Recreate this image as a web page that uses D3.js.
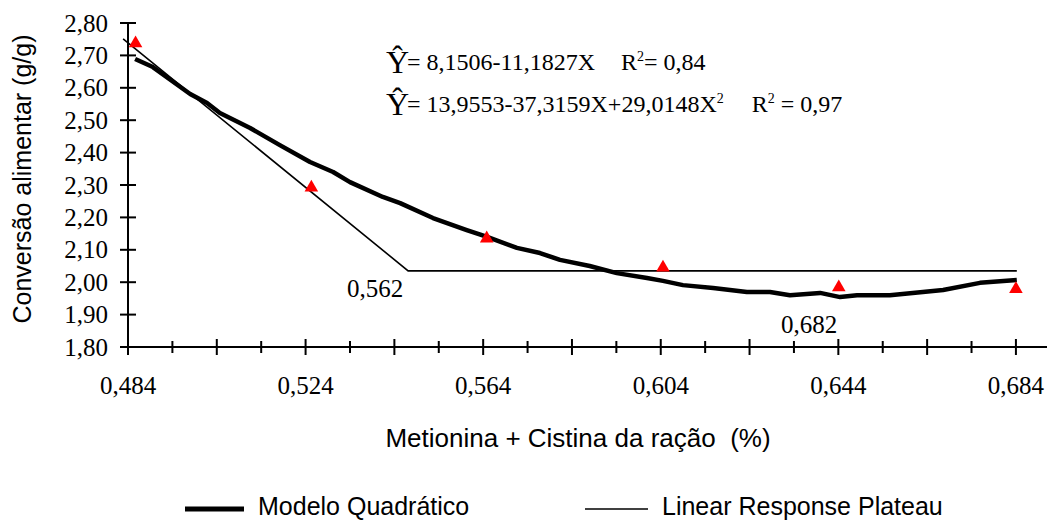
<!DOCTYPE html>
<html lang="pt">
<head>
  <meta charset="UTF-8" />
  <title>Conversão alimentar</title>
  <script src="https://d3js.org/d3.v7.min.js"></script>
  <style>
    body { margin: 0; background: #fff; }
    .serif { font-family: "Liberation Serif", "Times New Roman", serif; fill: #000; }
    .sans  { font-family: "Liberation Sans", Arial, sans-serif; fill: #000; white-space: pre; }
  </style>
</head>
<body>
<script>
  // observed points (red triangles)
  const obsX = [0.4857, 0.5253, 0.5648, 0.6045, 0.6441, 0.684];
  const obsY = [2.737, 2.292, 2.135, 2.045, 1.984, 1.979];

  // quadratic model curve
  const quadX = [0.4856, 0.4896, 0.498, 0.5018, 0.5047, 0.5115, 0.5182, 0.525, 0.5302, 0.534,
                 0.5414, 0.5453, 0.5527, 0.5603, 0.5649, 0.5716, 0.5768, 0.5813, 0.588, 0.5941,
                 0.6009, 0.6045, 0.609, 0.6158, 0.6234, 0.6286, 0.6331, 0.6399, 0.6444, 0.6482,
                 0.6556, 0.6676, 0.6759, 0.6842];
  const quadY = [2.689, 2.664, 2.581, 2.553, 2.522, 2.476, 2.423, 2.371, 2.340, 2.309,
                 2.263, 2.244, 2.198, 2.161, 2.140, 2.106, 2.090, 2.069, 2.050, 2.028,
                 2.013, 2.004, 1.991, 1.982, 1.970, 1.970, 1.960, 1.967, 1.954, 1.960,
                 1.960, 1.976, 1.998, 2.007];

  // linear response plateau
  const lrpX = [0.4829, 0.5471, 0.6842];
  const lrpY = [2.751, 2.035, 2.035];

  const yTicks = d3.range(0, 11).map(i => +(1.8 + i * 0.1).toFixed(2));
  const xTicks = d3.range(0, 21).map(i => +(0.484 + i * 0.01).toFixed(3));
  const xLabels = [0.484, 0.524, 0.564, 0.604, 0.644, 0.684];

  const notes = [
    { x: 0.5471, y: 2.035, text: "0,562" },
    { x: 0.6374, y: 1.954, text: "0,682" }
  ];

  const fmt = v => v.toFixed(v < 1 ? 3 : 2).replace(".", ",");

  const W = 1052, H = 521;
  const svg = d3.select("body").append("svg")
    .attr("width", W).attr("height", H);

  const x = d3.scaleLinear().domain([0.484, 0.691]).range([128, 1047]);
  const y = d3.scaleLinear().domain([1.8, 2.8]).range([347, 23]);

  // y axis
  svg.append("line")
    .attr("x1", x(0.484)).attr("x2", x(0.484))
    .attr("y1", y(2.8)).attr("y2", y(1.8) + 8)
    .attr("stroke", "#000").attr("stroke-width", 2);
  svg.selectAll(".ytick").data(yTicks).enter().append("line")
    .attr("x1", x(0.484) - 8).attr("x2", x(0.484) + 8)
    .attr("y1", d => y(d)).attr("y2", d => y(d))
    .attr("stroke", "#000").attr("stroke-width", 2);
  svg.selectAll(".ylab").data(yTicks).enter().append("text")
    .attr("class", "serif")
    .attr("x", 108).attr("y", d => y(d))
    .attr("dy", "0.34em")
    .attr("text-anchor", "end")
    .style("font-size", "25px")
    .text(fmt);

  // x axis
  svg.append("line")
    .attr("x1", x(0.484) - 8).attr("x2", x.range()[1])
    .attr("y1", y(1.8)).attr("y2", y(1.8))
    .attr("stroke", "#000").attr("stroke-width", 2);
  svg.selectAll(".xtick").data(xTicks).enter().append("line")
    .attr("x1", d => x(d)).attr("x2", d => x(d))
    .attr("y1", (d, i) => y(1.8) - (i % 2 ? 6 : 8))
    .attr("y2", (d, i) => y(1.8) + (i % 2 ? 6 : 8))
    .attr("stroke", "#000").attr("stroke-width", 2);
  svg.selectAll(".xlab").data(xLabels).enter().append("text")
    .attr("class", "serif")
    .attr("x", d => x(d)).attr("y", 394)
    .attr("text-anchor", "middle")
    .style("font-size", "25px")
    .text(fmt);

  // plateau line
  const line = d3.line().x(d => x(d[0])).y(d => y(d[1]));
  svg.append("path")
    .attr("d", line(d3.zip(lrpX, lrpY)))
    .attr("fill", "none").attr("stroke", "#000").attr("stroke-width", 1.6);

  // quadratic curve
  svg.append("path")
    .attr("d", line(d3.zip(quadX, quadY)))
    .attr("fill", "none").attr("stroke", "#000").attr("stroke-width", 4.5)
    .attr("stroke-linejoin", "round");

  // observed triangles
  const tri = d3.symbol().type(d3.symbolTriangle).size(80);
  svg.selectAll(".obs").data(d3.zip(obsX, obsY)).enter().append("path")
    .attr("d", tri)
    .attr("transform", d => `translate(${x(d[0])},${y(d[1])})`)
    .attr("fill", "#ff0000");

  // point notes
  svg.append("text").attr("class", "serif")
    .attr("x", x(notes[0].x) - 5).attr("y", y(notes[0].y) + 26)
    .attr("text-anchor", "end").style("font-size", "25px")
    .text(notes[0].text);
  svg.append("text").attr("class", "serif")
    .attr("x", x(notes[1].x)).attr("y", y(notes[1].y) + 36)
    .attr("text-anchor", "middle").style("font-size", "25px")
    .text(notes[1].text);

  // equations
  const eq = [
    { yb: 70, body: "= 8,1506-11,1827X", sup1: "", r2rest: "= 0,84", gap: 26 },
    { yb: 112, body: "= 13,9553-37,3159X+29,0148X", sup1: "2", r2rest: " = 0,97", gap: 22 }
  ];
  eq.forEach(e => {
    svg.append("text").attr("class", "serif")
      .attr("x", 386).attr("y", e.yb + 3)
      .style("font-size", "32px")
      .text("\u0176");
    const t = svg.append("text").attr("class", "serif")
      .attr("x", 407).attr("y", e.yb)
      .style("font-size", "24px");
    t.append("tspan").text(e.body);
    if (e.sup1) {
      t.append("tspan").attr("dy", -9).style("font-size", "14px").text(e.sup1);
      t.append("tspan").attr("dy", 9).text("\u00a0");
    }
    t.append("tspan").attr("dx", e.gap).text("R");
    t.append("tspan").attr("dy", -9).style("font-size", "14px").text("2");
    t.append("tspan").attr("dy", 9).text(e.r2rest);
  });

  // axis titles
  svg.append("text").attr("class", "sans")
    .attr("x", 578).attr("y", 447)
    .attr("text-anchor", "middle")
    .style("font-size", "26px")
    .text("Metionina + Cistina da ração  (%)");

  svg.append("text").attr("class", "sans")
    .attr("transform", "translate(31,179) rotate(-90)")
    .attr("text-anchor", "middle")
    .style("font-size", "25px")
    .text("Conversão alimentar (g/g)");

  // legend
  const legend = [
    { label: "Modelo Quadrático", w: 5, x0: 185, x1: 244, tx: 258 },
    { label: "Linear Response Plateau", w: 1.6, x0: 585, x1: 648, tx: 662 }
  ];
  legend.forEach(l => {
    svg.append("line")
      .attr("x1", l.x0).attr("x2", l.x1).attr("y1", 509).attr("y2", 509)
      .attr("stroke", "#000").attr("stroke-width", l.w);
    svg.append("text").attr("class", "sans")
      .attr("x", l.tx).attr("y", 515)
      .style("font-size", "25px")
      .text(l.label);
  });
</script>
</body>
</html>
